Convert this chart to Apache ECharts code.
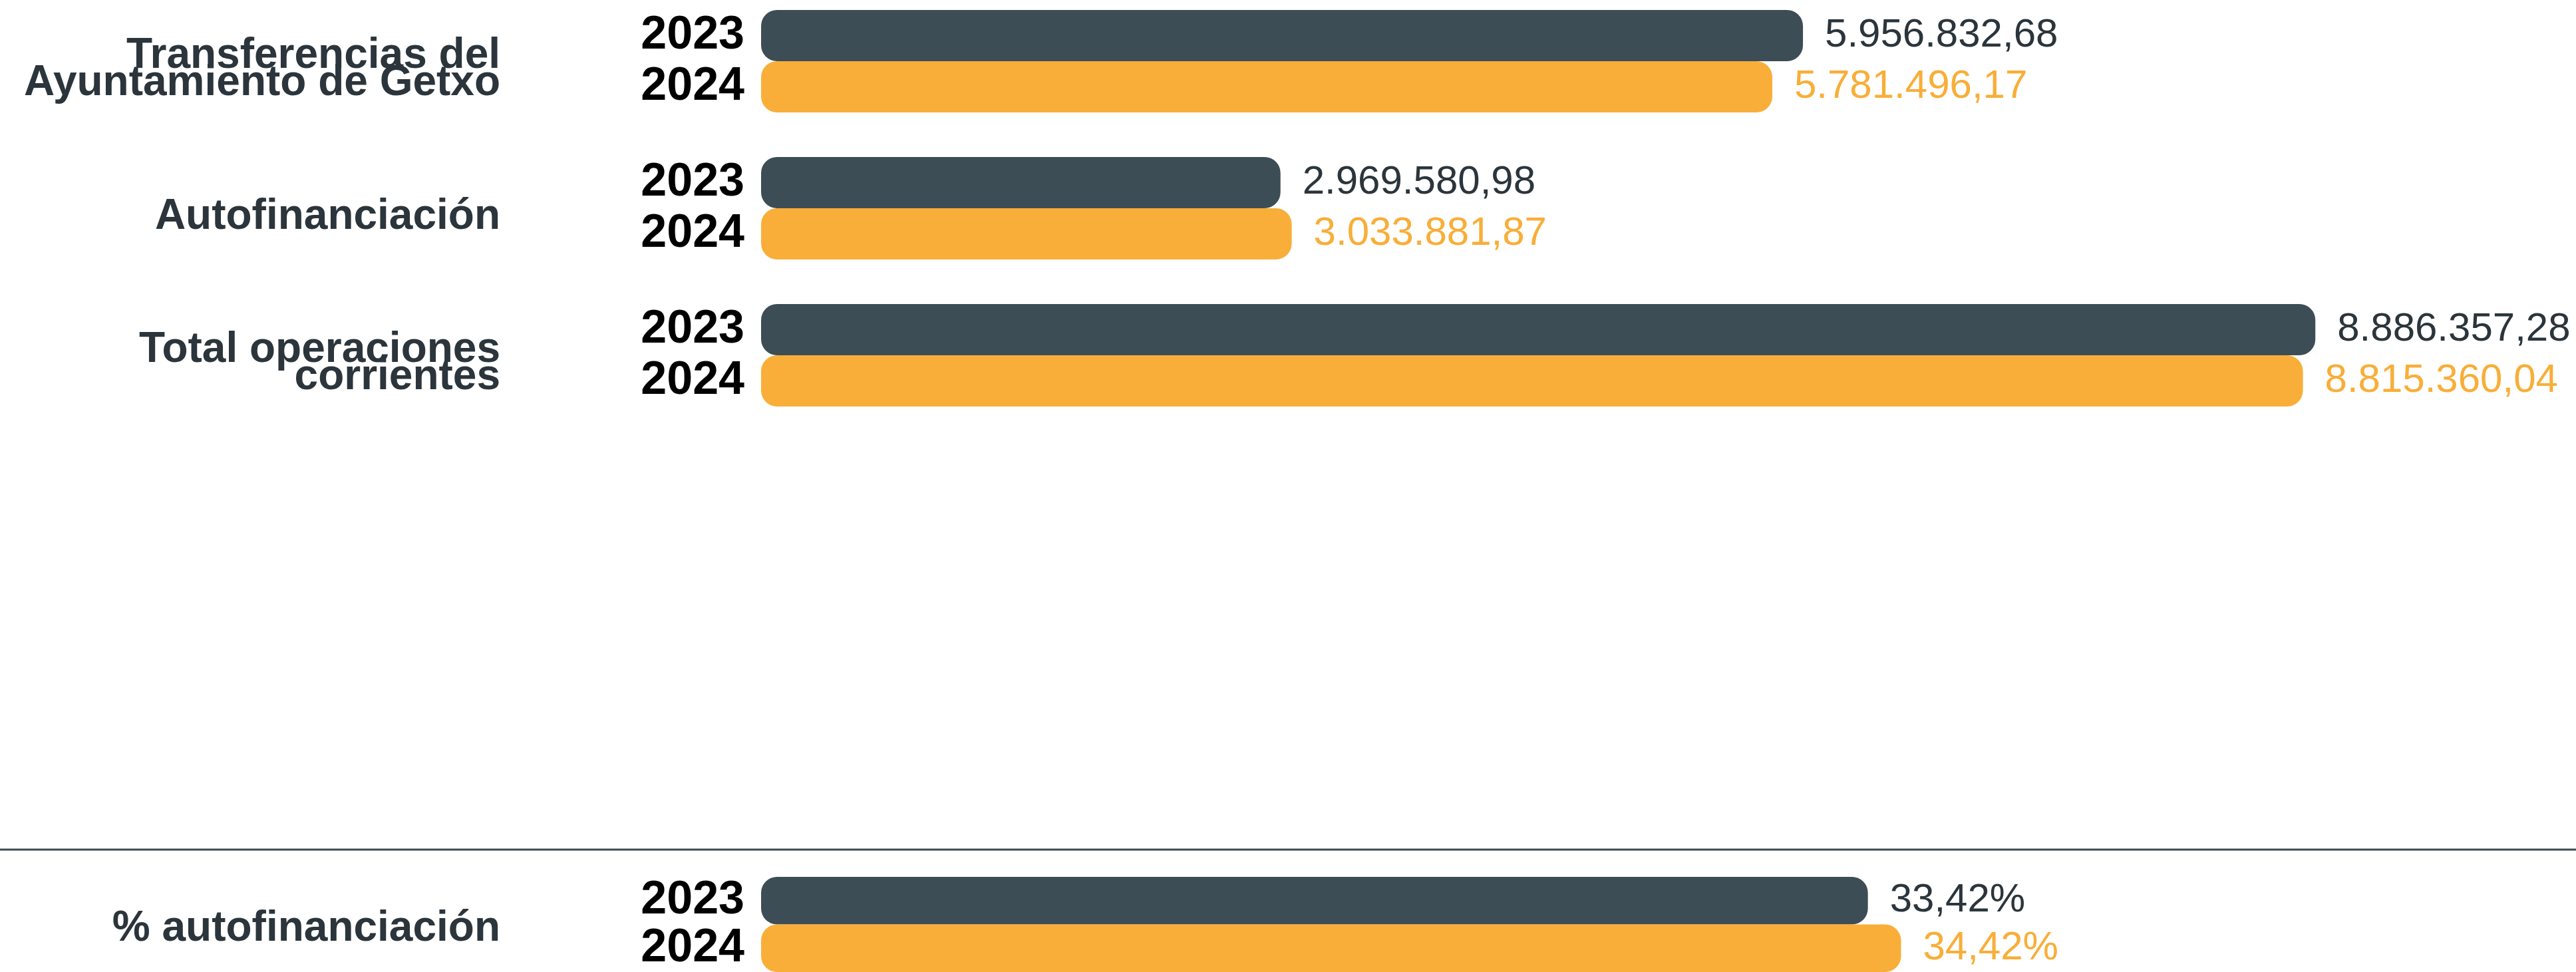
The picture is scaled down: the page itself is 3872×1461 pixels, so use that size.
<!DOCTYPE html>
<html>
<head>
<meta charset="utf-8">
<script src="https://cdn.jsdelivr.net/npm/echarts@6/dist/echarts.min.js"></script>
<style>
  html, body { margin: 0; padding: 0; background: #ffffff; }
  #chart { width: 3872px; height: 1461px; }
</style>
</head>
<body>
<div id="chart"></div>
<script>
// Data
const categories = ['Transferencias del\nAyuntamiento de Getxo', 'Autofinanciación', 'Total operaciones\ncorrientes'];
const years = ['2023', '2024'];
const values2023 = [5956832.68, 2969580.98, 8886357.28];
const values2024 = [5781496.17, 3033881.87, 8815360.04];
const pctCategory = ['% autofinanciación'];
const pctValues = [33.42, 34.42]; // 2023, 2024

// Styles
const DARK = '#3d4d55';
const ORANGE = '#f8ae38';
const DARK_TEXT = '#2b353b';
const FONT = '"Liberation Sans", Arial, sans-serif';

function fmtEs(v, decimals) {
  const parts = v.toFixed(decimals).split('.');
  return parts[0].replace(/\B(?=(\d{3})+(?!\d))/g, '.') + ',' + parts[1];
}

// one small grid per group, so each pair of bars carries its own year labels
const groups = categories.map((name, i) => ({
  name: name,
  vals: [values2023[i], values2024[i]],
  max: 10000000,
  right: 99,
  fmt: v => fmtEs(v, 2)
}));
groups.push({
  name: pctCategory[0],
  vals: pctValues,
  max: 50,
  right: 239,
  fmt: v => fmtEs(v, 2) + '%'
});
const tops = [15, 236, 457, 1318];
const BAND = 154;
const NAME_SHIFT = 13; // group titles sit slightly below the centre of their bar pair

const grid = [], xAxis = [], yAxis = [], series = [];
groups.forEach((g, i) => {
  // bars + year labels
  grid.push({ left: 1144, right: g.right, top: tops[i], height: BAND });
  xAxis.push({ type: 'value', gridIndex: grid.length - 1, min: 0, max: g.max, show: false });
  yAxis.push({
    type: 'category', gridIndex: grid.length - 1, data: years, inverse: true, position: 'left',
    axisLine: { show: false }, axisTick: { show: false }, splitLine: { show: false },
    axisLabel: { interval: 0, margin: 25, fontSize: 70, fontWeight: 'bold', color: '#000000', fontFamily: FONT }
  });
  series.push({
    type: 'bar',
    xAxisIndex: xAxis.length - 1,
    yAxisIndex: yAxis.length - 1,
    barCategoryGap: '0%',
    data: g.vals.map((v, k) => ({
      value: v,
      itemStyle: { color: k === 0 ? DARK : ORANGE, borderRadius: 24 },
      label: { color: k === 0 ? DARK_TEXT : ORANGE }
    })),
    label: {
      show: true, position: 'right', distance: 33,
      fontSize: 60, fontFamily: FONT,
      formatter: p => g.fmt(p.value)
    }
  });

  // group title
  grid.push({ left: 1144, right: g.right, top: tops[i] + NAME_SHIFT, height: BAND });
  xAxis.push({ type: 'value', gridIndex: grid.length - 1, min: 0, max: g.max, show: false });
  yAxis.push({
    type: 'category', gridIndex: grid.length - 1, data: [g.name], position: 'left',
    axisLine: { show: false }, axisTick: { show: false }, splitLine: { show: false },
    axisLabel: {
      interval: 0, margin: 392, fontSize: 64, fontWeight: 'bold', color: DARK_TEXT, fontFamily: FONT,
      lineHeight: 41, align: 'right'
    }
  });
});

const chart = echarts.init(document.getElementById('chart'), null, { renderer: 'canvas' });
chart.setOption({
  backgroundColor: '#ffffff',
  animation: false,
  grid: grid,
  xAxis: xAxis,
  yAxis: yAxis,
  series: series,
  graphic: [{
    type: 'line',
    shape: { x1: 0, y1: 1277, x2: 3872, y2: 1277 },
    style: { stroke: '#3d4a52', lineWidth: 3 }
  }]
});
</script>
</body>
</html>
